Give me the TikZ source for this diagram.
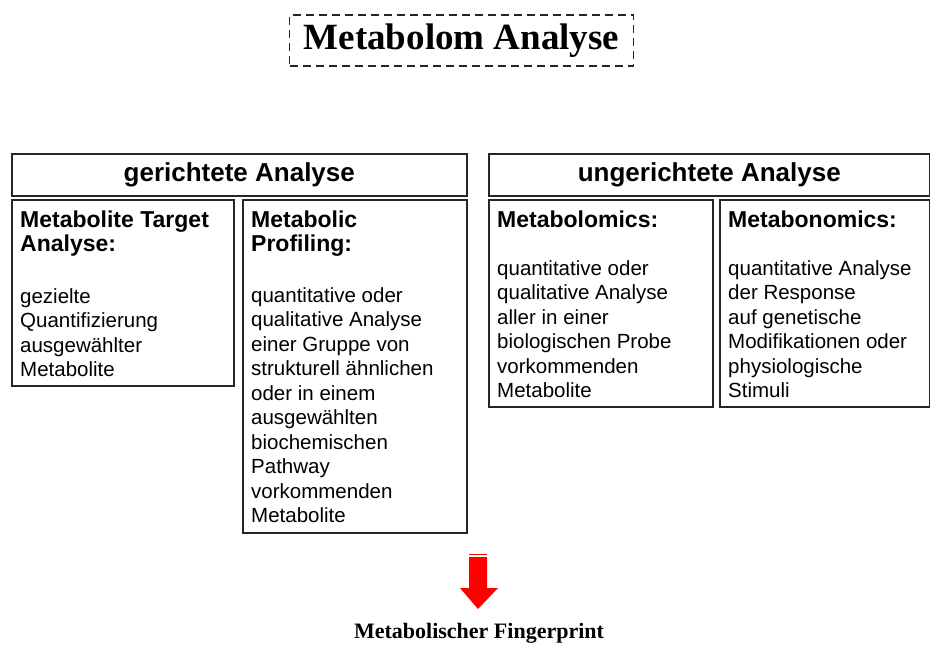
\documentclass[tikz,border=0pt]{standalone}
\usepackage{fontspec}
\setmainfont{Liberation Serif}
\setsansfont{Liberation Sans}
\begin{document}
\begin{tikzpicture}[x=1pt,y=-1pt,
  frame/.style={draw=black!85,line width=1.6pt,anchor=north west,inner sep=0pt},
  hdr/.style={font=\sffamily\bfseries\fontsize{26}{28}\selectfont},
  boxtext/.style={anchor=base west,inner sep=0pt,align=left,font=\sffamily\fontsize{20.5}{24.5}\selectfont},
  bhead/.style={anchor=base west,inner sep=0pt,align=left,font=\sffamily\bfseries\fontsize{23}{24}\selectfont}]
\useasboundingbox (0,0) rectangle (930,648);

% title
\node[draw=black!85,line width=1.8pt,dash pattern=on 8pt off 5pt,
      minimum width=344pt,minimum height=51pt,inner sep=0pt,
      font=\rmfamily\bfseries\fontsize{37}{40}\selectfont] (title) at (461.5,40.5) {Metabolom Analyse};

% category headers
\node[frame,minimum width=455pt,minimum height=42pt] (ger) at (11,153) {};
\node[hdr] (gert) at (ger.center) {gerichtete Analyse};
\node[frame,minimum width=441pt,minimum height=42pt] (unger) at (488,153) {};
\node[hdr] (ungert) at (unger.center) {ungerichtete Analyse};

% detail boxes
\node[frame,minimum width=222pt,minimum height=186pt] (mta) at (11,199) {};
\node[frame,minimum width=224pt,minimum height=333pt] (mp) at (242,199) {};
\node[frame,minimum width=224pt,minimum height=207pt] (mbl) at (488,199) {};
\node[frame,minimum width=210pt,minimum height=207pt] (mbn) at (719,199) {};

% box headings (anchored at the baseline of their last line)
\node[bhead] (mtah) at (20,251) {Metabolite Target\\Analyse:};
\node[bhead] (mph) at (251,251) {Metabolic\\Profiling:};
\node[bhead] (mblh) at (497,227) {Metabolomics:};
\node[bhead] (mbnh) at (728,227) {Metabonomics:};

% box descriptions (anchored at the baseline of their last line)
\node[boxtext] (mtat) at (20,376.5)
  {gezielte\\Quantifizierung\\ausgewählter\\Metabolite};
\node[boxtext] (mpt) at (251,522.5)
  {quantitative oder\\qualitative Analyse\\einer Gruppe von\\strukturell ähnlichen\\oder in einem\\ausgewählten\\biochemischen\\Pathway\\vorkommenden\\Metabolite};
\node[boxtext] (mblt) at (497,397.5)
  {quantitative oder\\qualitative Analyse\\aller in einer\\biologischen Probe\\vorkommenden\\Metabolite};
\node[boxtext] (mbnt) at (728,397.5)
  {quantitative Analyse\\der Response\\auf genetische\\Modifikationen oder\\physiologische\\Stimuli};

% red arrow
\fill[red] (469,553.5) rectangle (487,555);
\fill[red] (469,557) -- (487,557) -- (487,588) -- (498,588) -- (478,609)
  -- (460,588) -- (469,588) -- cycle;

\node[font=\rmfamily\bfseries\fontsize{22}{24}\selectfont] (fp) at (479,633) {Metabolischer Fingerprint};
\end{tikzpicture}
\end{document}
